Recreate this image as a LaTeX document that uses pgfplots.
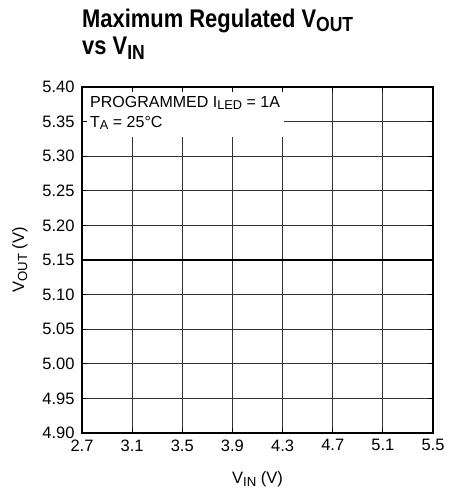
\documentclass[border=0pt]{standalone}
\usepackage{fontspec}
\setmainfont{Liberation Sans}
\newfontfamily\titlefont{Liberation Sans}[FakeStretch=0.86]
\usepackage{pgfplots}
\pgfplotsset{compat=1.18}
\newcommand\sub[1]{\raisebox{-0.35ex}{\scalebox{0.8}{#1}}}
\pgfplotsset{myax/.style={
  at={(0pt,0pt)}, anchor=south west,
  scale only axis, width=351pt, height=346pt,
  xmin=2.7, xmax=5.5, ymin=4.90, ymax=5.40,
  xtick={2.7,3.1,...,5.5}, ytick={4.90,4.95,...,5.41},
  tick align=inside, major tick length=5pt,
  tick style={black, line width=0.8pt},
  axis line style={black, line width=1.3pt},
}}
\begin{document}
\begin{tikzpicture}
\path[use as bounding box] (-82pt,-64pt) rectangle (378pt,433pt);
\begin{axis}[myax,
  xticklabel style={yshift=-3pt, /pgf/number format/fixed, /pgf/number format/fixed zerofill, /pgf/number format/precision=1},
  yticklabel style={xshift=-4pt, /pgf/number format/fixed, /pgf/number format/fixed zerofill, /pgf/number format/precision=2},
  /pgf/number format/assume math mode=true,
  tick label style={font=\fontsize{16.5}{19}\selectfont},
  grid=major, grid style={black!80, line width=0.9pt},
  xlabel={V\sub{IN} (V)}, ylabel={V\sub{OUT} (V)},
  label style={font=\fontsize{16.5}{19}\selectfont},
  xlabel style={yshift=-13pt},
  ylabel style={yshift=8pt},
  clip=false,
]
\addplot[black, line width=2.6pt] coordinates {(2.7,5.15) (5.5,5.15)};
\node[fill=white, anchor=north west, inner sep=0pt, minimum width=202pt, minimum height=50pt] at (rel axis cs:0,1) {};
\node[anchor=base west, inner sep=0pt, font=\fontsize{16}{19}\selectfont] at ([xshift=8pt,yshift=-20pt]rel axis cs:0,1) {PROGRAMMED I\sub{LED} = 1A};
\node[anchor=base west, inner sep=0pt, font=\fontsize{16}{19}\selectfont] at ([xshift=8pt,yshift=-40pt]rel axis cs:0,1) {T\sub{A} = 25°C};
\node[anchor=base west, inner sep=0pt, font=\titlefont\fontsize{25.5}{30}\bfseries\selectfont] at ([yshift=60pt]rel axis cs:0,1) {Maximum Regulated V\sub{OUT}};
\node[anchor=base west, inner sep=0pt, font=\titlefont\fontsize{25.5}{30}\bfseries\selectfont] at ([yshift=32pt]rel axis cs:0,1) {vs V\sub{IN}};
\end{axis}
\begin{axis}[myax, xticklabels={}, yticklabels={}]
\end{axis}
\end{tikzpicture}
\end{document}
